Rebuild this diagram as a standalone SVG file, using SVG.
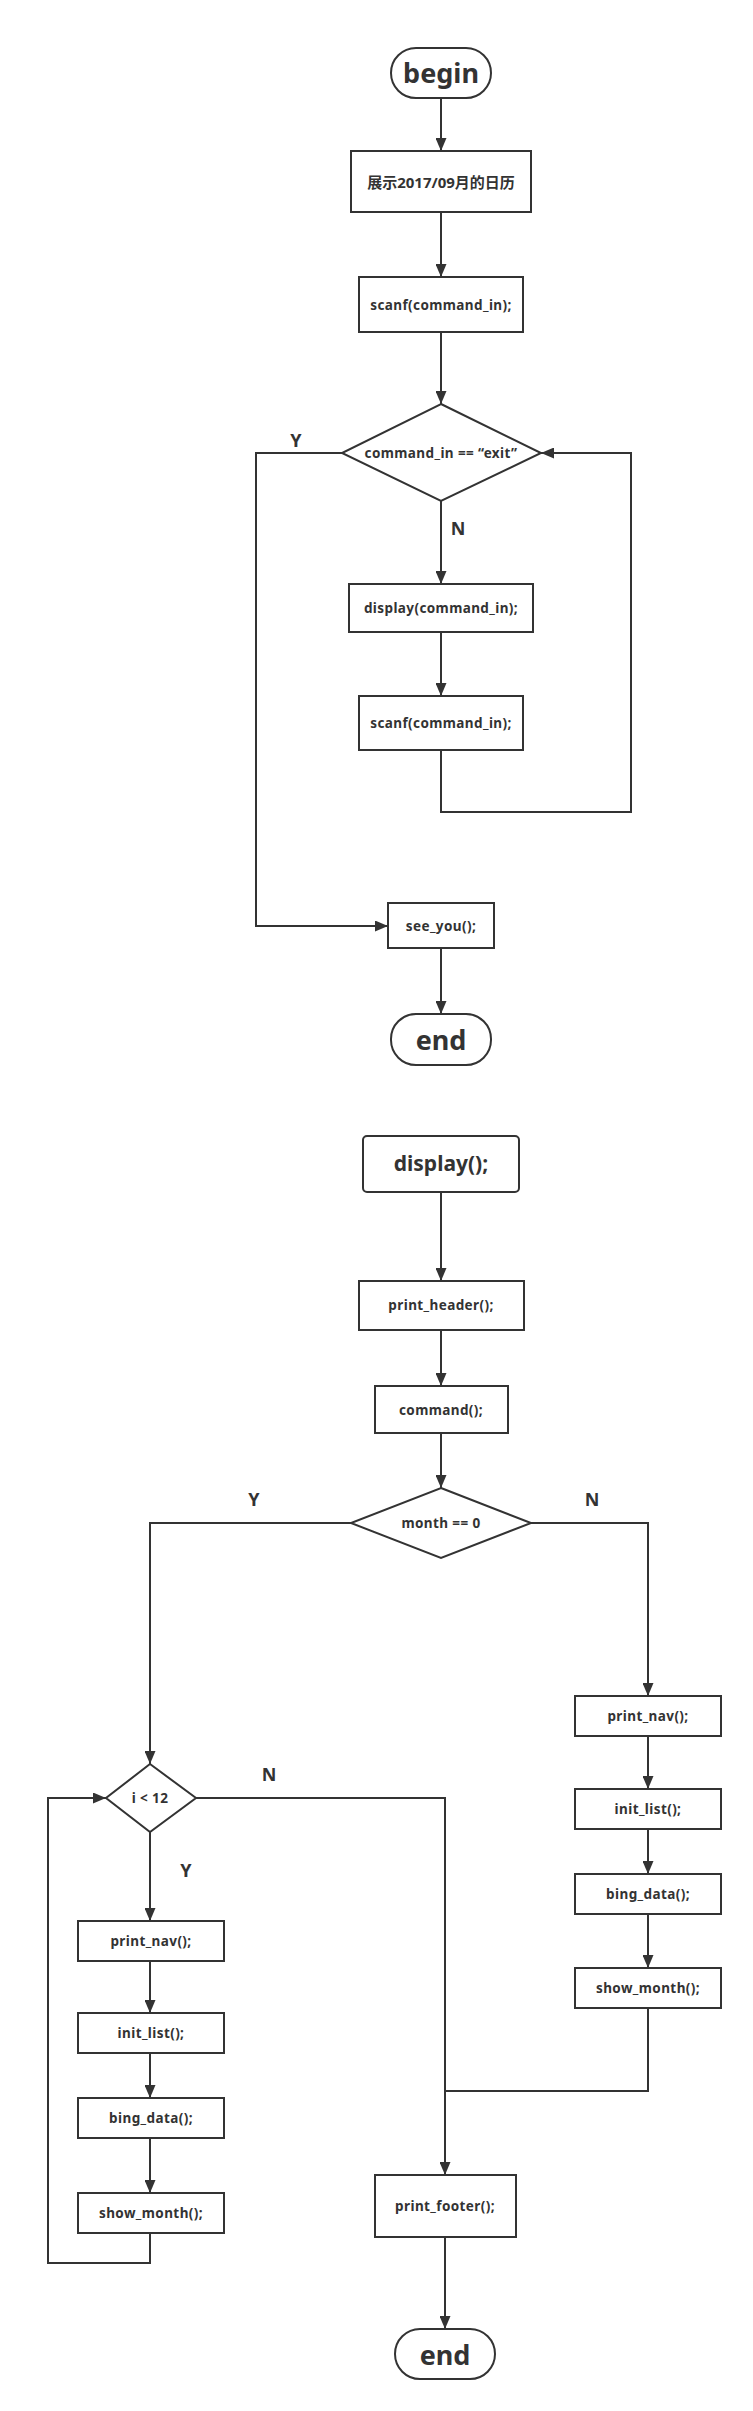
<svg xmlns="http://www.w3.org/2000/svg" width="753" height="2411" viewBox="0 0 753 2411">
<defs>
<marker id="arr" markerUnits="userSpaceOnUse" markerWidth="14" markerHeight="11" refX="13" refY="5.5" orient="auto">
<path d="M0,0 L13,5.5 L0,11 z" fill="#333"/>
</marker>
<style>
.shape{fill:#fff;stroke:#333;stroke-width:2}
.line{fill:none;stroke:#333;stroke-width:2}
.t{font-family:"Noto Sans","Noto Sans CJK SC",sans-serif;font-weight:bold;fill:#333;text-anchor:middle;dominant-baseline:central}
.s{font-size:13.5px;letter-spacing:0.4px}
.m{font-size:15px}
.xl{font-size:27px}
.l{font-size:21px}
.lbl{font-size:18px}
</style>
</defs>
<rect width="753" height="2411" fill="#fff"/>
<g id="connectors">
<path class="line" d="M441,98 V151" marker-end="url(#arr)"/>
<path class="line" d="M441,212 V277" marker-end="url(#arr)"/>
<path class="line" d="M441,332 V404" marker-end="url(#arr)"/>
<path class="line" d="M342,453 H256 V926 H388" marker-end="url(#arr)"/>
<path class="line" d="M441,501 V584" marker-end="url(#arr)"/>
<path class="line" d="M441,632 V696" marker-end="url(#arr)"/>
<path class="line" d="M441,750 V812 H631 V453 H541" marker-end="url(#arr)"/>
<path class="line" d="M441,948 V1014" marker-end="url(#arr)"/>
<path class="line" d="M441,1192 V1281" marker-end="url(#arr)"/>
<path class="line" d="M441,1330 V1386" marker-end="url(#arr)"/>
<path class="line" d="M441,1433 V1488" marker-end="url(#arr)"/>
<path class="line" d="M351,1523 H150 V1764" marker-end="url(#arr)"/>
<path class="line" d="M531,1523 H648 V1696" marker-end="url(#arr)"/>
<path class="line" d="M150,1832 V1921" marker-end="url(#arr)"/>
<path class="line" d="M150,1961 V2013" marker-end="url(#arr)"/>
<path class="line" d="M150,2053 V2098" marker-end="url(#arr)"/>
<path class="line" d="M150,2138 V2193" marker-end="url(#arr)"/>
<path class="line" d="M150,2233 V2263 H48 V1798 H106" marker-end="url(#arr)"/>
<path class="line" d="M196,1798 H445 V2175" marker-end="url(#arr)"/>
<path class="line" d="M648,1736 V1789" marker-end="url(#arr)"/>
<path class="line" d="M648,1829 V1874" marker-end="url(#arr)"/>
<path class="line" d="M648,1914 V1968" marker-end="url(#arr)"/>
<path class="line" d="M648,2009 V2091 H445"/>
<path class="line" d="M445,2237 V2329" marker-end="url(#arr)"/>
<text class="t lbl" x="296" y="440">Y</text>
<text class="t lbl" x="458" y="528">N</text>
<text class="t lbl" x="254" y="1499">Y</text>
<text class="t lbl" x="592" y="1499">N</text>
<text class="t lbl" x="269" y="1774">N</text>
<text class="t lbl" x="186" y="1870">Y</text>
</g>
<g id="begin"><rect class="shape" x="391" y="48" width="100" height="50" rx="25"/><text class="t xl" x="441" y="72">begin</text></g>
<g id="show"><rect class="shape" x="351" y="151" width="180" height="61"/><text class="t m" x="441" y="182">展示2017/09月的日历</text></g>
<g id="scanf1"><rect class="shape" x="359" y="277" width="164" height="55"/><text class="t s" x="441" y="305">scanf(command_in);</text></g>
<g id="cond1"><polygon class="shape" points="441,404 541,453 441,501 342,453"/><text class="t s" x="441" y="453">command_in == “exit”</text></g>
<g id="display1"><rect class="shape" x="349" y="584" width="184" height="48"/><text class="t s" x="441" y="608">display(command_in);</text></g>
<g id="scanf2"><rect class="shape" x="359" y="696" width="164" height="54"/><text class="t s" x="441" y="723">scanf(command_in);</text></g>
<g id="seeyou"><rect class="shape" x="388" y="903" width="106" height="45"/><text class="t s" x="441" y="926">see_you();</text></g>
<g id="end1"><rect class="shape" x="391" y="1014" width="100" height="51" rx="25"/><text class="t xl" x="441" y="1039">end</text></g>
<g id="display2"><rect class="shape" x="363" y="1136" width="156" height="56" rx="4"/><text class="t l" x="441" y="1163">display();</text></g>
<g id="header"><rect class="shape" x="359" y="1281" width="165" height="49"/><text class="t s" x="441" y="1305">print_header();</text></g>
<g id="command"><rect class="shape" x="375" y="1386" width="133" height="47"/><text class="t s" x="441" y="1410">command();</text></g>
<g id="cond2"><polygon class="shape" points="441,1488 531,1523 441,1558 351,1523"/><text class="t s" x="441" y="1523">month == 0</text></g>
<g id="cond3"><polygon class="shape" points="150,1764 196,1798 150,1832 106,1798"/><text class="t s" x="150" y="1798">i &lt; 12</text></g>
<g id="lnav"><rect class="shape" x="78" y="1921" width="146" height="40"/><text class="t s" x="151" y="1941">print_nav();</text></g>
<g id="linit"><rect class="shape" x="78" y="2013" width="146" height="40"/><text class="t s" x="151" y="2033">init_list();</text></g>
<g id="lbing"><rect class="shape" x="78" y="2098" width="146" height="40"/><text class="t s" x="151" y="2118">bing_data();</text></g>
<g id="lshow"><rect class="shape" x="78" y="2193" width="146" height="40"/><text class="t s" x="151" y="2213">show_month();</text></g>
<g id="rnav"><rect class="shape" x="575" y="1696" width="146" height="40"/><text class="t s" x="648" y="1716">print_nav();</text></g>
<g id="rinit"><rect class="shape" x="575" y="1789" width="146" height="40"/><text class="t s" x="648" y="1809">init_list();</text></g>
<g id="rbing"><rect class="shape" x="575" y="1874" width="146" height="40"/><text class="t s" x="648" y="1894">bing_data();</text></g>
<g id="rshow"><rect class="shape" x="575" y="1968" width="146" height="40"/><text class="t s" x="648" y="1988">show_month();</text></g>
<g id="footer"><rect class="shape" x="375" y="2175" width="141" height="62"/><text class="t s" x="445" y="2206">print_footer();</text></g>
<g id="end2"><rect class="shape" x="395" y="2329" width="100" height="50" rx="25"/><text class="t xl" x="445" y="2354">end</text></g>
</svg>
